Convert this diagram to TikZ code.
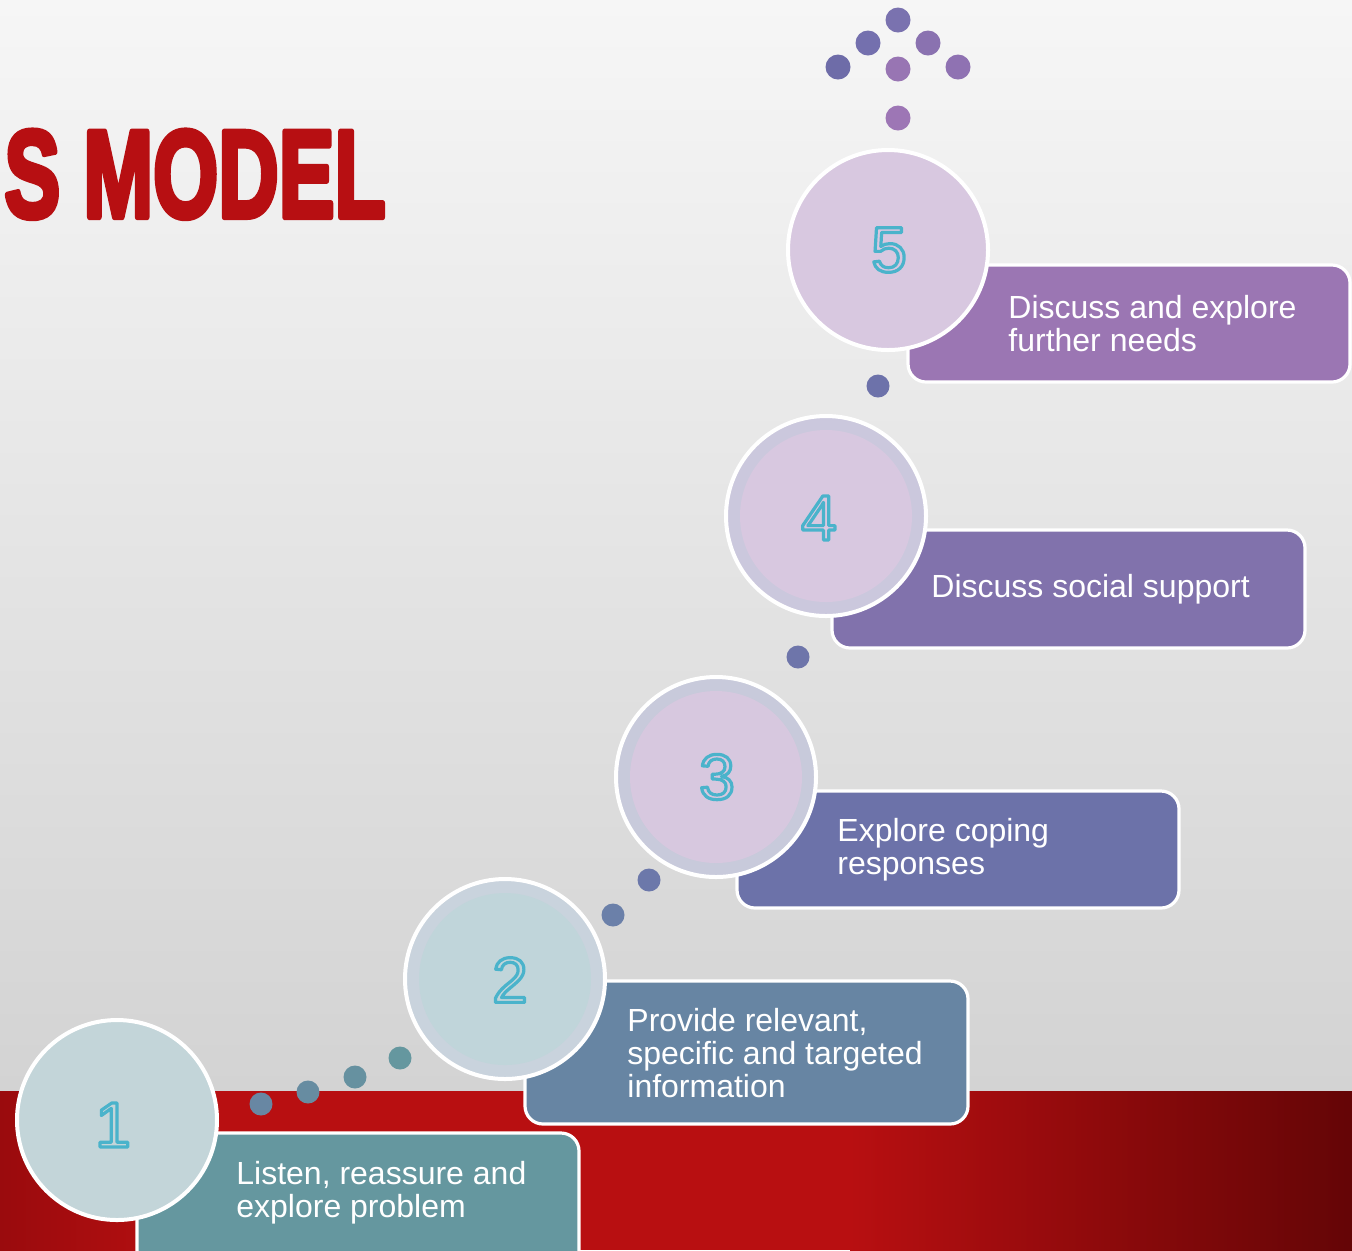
\documentclass[tikz,border=0pt]{standalone}
\usepackage{fontspec}
\setmainfont{Liberation Sans}
\definecolor{bgtop}{HTML}{F6F6F6}
\definecolor{bgbot}{HTML}{D3D3D3}
\definecolor{redA}{HTML}{9A0B0D}
\definecolor{redB}{HTML}{B80F11}
\definecolor{redC}{HTML}{640506}
\definecolor{titlered}{HTML}{B70F12}
\definecolor{numcyan}{HTML}{4AB3CB}
\definecolor{bxA}{HTML}{65979F}
\definecolor{bxB}{HTML}{6785A3}
\definecolor{bxC}{HTML}{6C72A9}
\definecolor{bxD}{HTML}{8172AC}
\definecolor{bxE}{HTML}{9B76B3}
\definecolor{ciA}{HTML}{C3D5D9}
\definecolor{ciBring}{HTML}{C9D3DD}
\definecolor{ciB}{HTML}{C0D5DA}
\definecolor{ciCring}{HTML}{C8CADB}
\definecolor{ciC}{HTML}{D7C8DF}
\definecolor{ciDring}{HTML}{CBC8DD}
\definecolor{ciD}{HTML}{D8C8E0}
\definecolor{ciE}{HTML}{D8C8E0}
\tikzset{
  stepbox/.style={draw=white, line width=1.6pt, rounded corners=9pt, inner sep=0pt},
  stepcirc/.style={circle, draw=white, line width=2pt, minimum size=100pt, inner sep=0pt},
  innerdisk/.style={circle, minimum size=86pt, inner sep=0pt},
  steptext/.style={anchor=west, inner sep=0pt, align=left, text=white, font=\fontsize{16}{16.5}\selectfont},
  dotA/.style={circle, minimum size=11.5pt, inner sep=0pt},
  dotB/.style={circle, minimum size=12.5pt, inner sep=0pt},
  numlabel/.style={inner sep=0pt, text=numcyan}
}
\newcommand{\stepnum}[1]{{\fontsize{32}{32}\selectfont\special{pdf:code 1 Tr 1.6 w 1 j}#1\special{pdf:code 0 Tr}}}
\newcommand{\titletext}[1]{{\special{pdf:code 2 Tr 3 w 1 j}#1\special{pdf:code 0 Tr}}}
\begin{document}
\begin{tikzpicture}[x=0.5pt,y=-0.5pt]
\useasboundingbox (0,0) rectangle (1352,1250);
\clip (0,0) rectangle (1352,1250);
% background
\fill[top color=bgtop, bottom color=bgbot] (0,0) rectangle (1352,1091);
\fill[left color=redA, right color=redB] (0,1091) rectangle (200.5,1250);
\fill[redB] (200,1091) rectangle (850.5,1250);
\fill[left color=redB, right color=redC] (850,1091) rectangle (1352,1250);
% title
\node[anchor=base west, inner sep=0pt, text=titlered] (title) at (4,217)
  {\scalebox{0.675}[1]{\fontsize{62}{62}\selectfont\bfseries\titletext{S MODEL}}};
% boxes
\node[stepbox, fill=bxA, minimum width=221pt, minimum height=68.5pt] (box1) at (358,1201.5) {};
\node[stepbox, fill=bxB, minimum width=221.5pt, minimum height=71.5pt] (box2) at (746.5,1052.5) {};
\node[stepbox, fill=bxC, minimum width=221pt, minimum height=58.5pt] (box3) at (958,849.5) {};
\node[stepbox, fill=bxD, minimum width=236.5pt, minimum height=59pt] (box4) at (1068.5,589) {};
\node[stepbox, fill=bxE, minimum width=221pt, minimum height=58.5pt] (box5) at (1129,323.5) {};
% texts
\node[steptext] (t1) at (236,1193) {Listen, reassure and\\explore problem};
\node[steptext] (t2) at (627,1053) {Provide relevant,\\specific and targeted\\information};
\node[steptext] (t3) at (837,850) {Explore coping\\responses};
\node[steptext] (t4) at (931,589) {Discuss social support};
\node[steptext] (t5) at (1008,324) {Discuss and explore\\further needs};
% circles
\node[stepcirc, fill=ciA] (c1) at (117,1120) {};
\node[stepcirc, fill=ciBring] (c2) at (505,979) {};
\node[innerdisk, fill=ciB] (c2in) at (c2) {};
\node[stepcirc, fill=ciCring] (c3) at (716,777) {};
\node[innerdisk, fill=ciC] (c3in) at (c3) {};
\node[stepcirc, fill=ciDring] (c4) at (826,516) {};
\node[innerdisk, fill=ciD] (c4in) at (c4) {};
\node[stepcirc, fill=ciE] (c5) at (888,250) {};
% numbers
\node[numlabel] (n1) at (113,1125) {\stepnum{1}};
\node[numlabel] (n2) at (510,980) {\stepnum{2}};
\node[numlabel] (n3) at (717,777) {\stepnum{3}};
\node[numlabel] (n4) at (819,518) {\stepnum{4}};
\node[numlabel] (n5) at (889,250) {\stepnum{5}};
% dots 1-2
\node[dotA, fill={rgb,255:red,104;green,135;blue,163}] (d1) at (261,1104) {};
\node[dotA, fill={rgb,255:red,103;green,140;blue,161}] (d2) at (308,1092) {};
\node[dotA, fill={rgb,255:red,102;green,145;blue,160}] (d3) at (355,1077) {};
\node[dotA, fill={rgb,255:red,101;green,151;blue,159}] (d4) at (400,1058) {};
% dots 2-3
\node[dotA, fill={rgb,255:red,107;green,128;blue,169}] (d5) at (613,915) {};
\node[dotA, fill={rgb,255:red,108;green,120;blue,170}] (d6) at (649,880) {};
% dot 3-4
\node[dotA, fill={rgb,255:red,110;green,117;blue,170}] (d7) at (798,657) {};
% dot 4-5
\node[dotA, fill={rgb,255:red,109;green,114;blue,170}] (d8) at (878,386) {};
% top dots
\node[dotB, fill={rgb,255:red,122;green,114;blue,175}] (e1) at (898,20) {};
\node[dotB, fill={rgb,255:red,116;green,112;blue,174}] (e2) at (868,43) {};
\node[dotB, fill={rgb,255:red,138;green,114;blue,176}] (e3) at (928,43) {};
\node[dotB, fill={rgb,255:red,110;green,108;blue,168}] (e4) at (838,67) {};
\node[dotB, fill={rgb,255:red,152;green,117;blue,179}] (e5) at (898,69) {};
\node[dotB, fill={rgb,255:red,143;green,114;blue,178}] (e6) at (958,67) {};
\node[dotB, fill={rgb,255:red,157;green,118;blue,181}] (e7) at (898,118) {};
\end{tikzpicture}
\end{document}
